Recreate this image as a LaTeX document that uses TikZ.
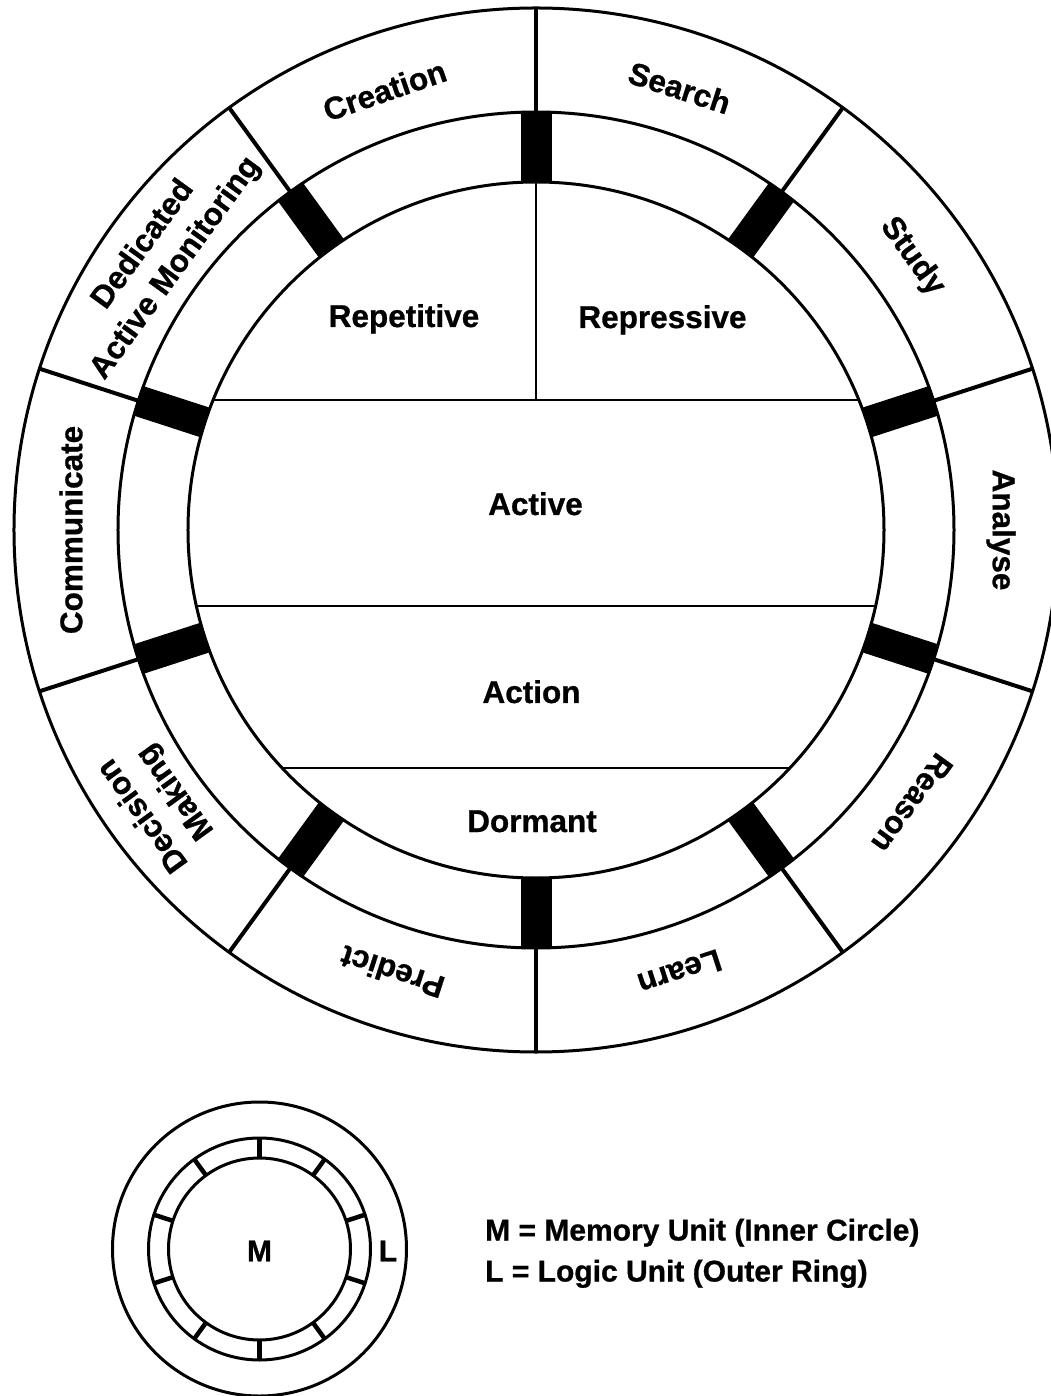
\documentclass[tikz,border=0pt]{standalone}
\usepackage{fontspec}
\setmainfont{Liberation Sans}[BoldFeatures={FakeBold=0.8}]
\begin{document}
\begin{tikzpicture}[x=1pt,y=1pt,
  ring/.style={line width=3pt},
  divider/.style={line width=4pt},
  chord/.style={line width=2.5pt},
  port/.style={fill=black},
  tick/.style={line width=4.5pt},
  lbl/.style={font=\fontsize{31.5}{40}\selectfont\bfseries, inner sep=0pt, align=center},
  key/.style={font=\fontsize{30}{36}\selectfont\bfseries, inner sep=0pt}]
\clip (-536,-866) rectangle (515,530);

% ---- main unit: logic ring around the memory circle ----
\draw[ring] (0,0) circle (522);
\draw[ring] (0,0) circle (418);
\draw[ring] (0,0) circle (348);
\foreach \a in {90,54,18,-18,-54,-90,-126,-162,162,126} {
  \draw[divider] (\a:418) -- (\a:522);
  \fill[port, rotate=\a] (347,-15.5) rectangle (419,15.5);
}

% memory partitions
\pgfmathsetmacro\ca{asin(130/348)}
\pgfmathsetmacro\cb{asin(76/348)}
\pgfmathsetmacro\cc{asin(238/348)}
\coordinate (top) at (90:348);
\coordinate (split) at (0,130);
\draw[chord] (\ca:348) -- (180-\ca:348);
\draw[chord] (-\cb:348) -- (180+\cb:348);
\draw[chord] (-\cc:348) -- (180+\cc:348);
\draw[chord] (top) -- (split);

\node[lbl, anchor=base] (rep) at (-132,203) {Repetitive};
\node[lbl, anchor=base] (rps) at (126.5,202) {Repressive};
\node[lbl, anchor=base] (act) at (-0.5,15) {Active};
\node[lbl, anchor=base] (acn) at (-4.5,-173) {Action};
\node[lbl, anchor=base] (dor) at (-4,-302) {Dormant};

% logic segments
\foreach \a/\t/\n in {109/Creation/s1, 72/Search/s2, 36/Study/s3, 0/Analyse/s4,
  -36/Reason/s5, -72/Learn/s6, -108/Predict/s7, -144/{Decision\\Making}/s8,
  180/Communicate/s9, 144/{Dedicated\\Active Monitoring}/s10} {
  \node[lbl, rotate=\a-90] (\n) at (\a:465) {\t};
}

% ---- key ----
\begin{scope}[shift={(-276.5,-719)}]
  \draw[ring] (0,0) circle (147);
  \draw[ring] (0,0) circle (111);
  \draw[ring] (0,0) circle (91);
  \foreach \a in {90,54,18,-18,-54,-90,-126,-162,162,126}
    \draw[tick] (\a:91) -- (\a:111);
  \node[key] (m) at (0,-2) {M};
  \node[key] (l) at (128.5,-2) {L};
\end{scope}
\node[key, anchor=base west] (k1) at (-51,-710.5) {M = Memory Unit (Inner Circle)};
\node[key, anchor=base west] (k2) at (-51,-751.5) {L = Logic Unit (Outer Ring)};
\end{tikzpicture}
\end{document}
